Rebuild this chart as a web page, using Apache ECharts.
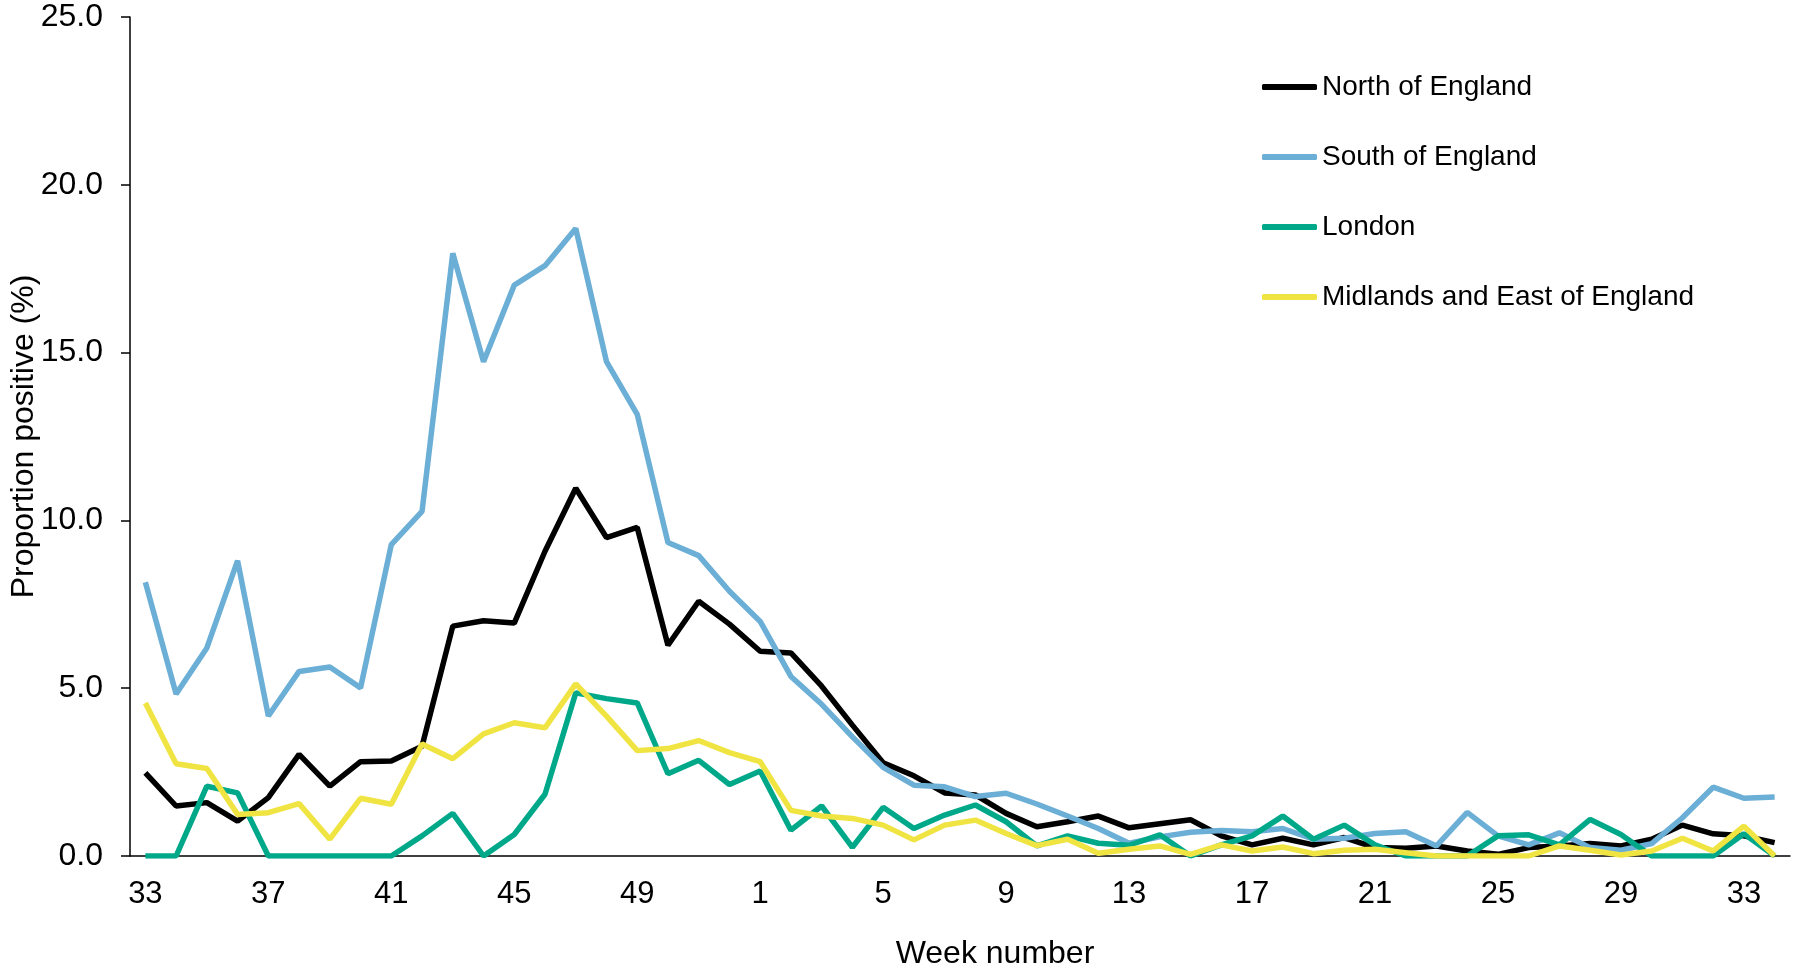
<!DOCTYPE html>
<html style="height: 100%">

<head>
  <meta charset="utf-8">
  <script src="https://cdn.jsdelivr.net/npm/echarts@6/dist/echarts.min.js"></script>
</head>

<body style="height: 100%; margin: 0; background: #fff">
  <div id="main" style="width: 1802px; height: 970px"></div>

  <script type="text/javascript">
    // week numbers: 33..52 of the first year, then 1..34
    var weeks = [33, 34, 35, 36, 37, 38, 39, 40, 41, 42, 43, 44, 45, 46, 47, 48, 49, 50, 51, 52,
      1, 2, 3, 4, 5, 6, 7, 8, 9, 10, 11, 12, 13, 14, 15, 16, 17, 18, 19, 20,
      21, 22, 23, 24, 25, 26, 27, 28, 29, 30, 31, 32, 33, 34];

    var north = [2.48, 1.49, 1.59, 1.04, 1.74, 3.03, 2.08, 2.81, 2.83, 3.27,
      6.85, 7.01, 6.94, 9.08, 10.96, 9.49, 9.79, 6.28, 7.59, 6.91,
      6.10, 6.05, 5.06, 3.90, 2.78, 2.39, 1.88, 1.82, 1.27, 0.87,
      1.02, 1.19, 0.84, 0.96, 1.08, 0.60, 0.33, 0.53, 0.33, 0.55,
      0.25, 0.23, 0.30, 0.15, 0.05, 0.25, 0.30, 0.37, 0.30, 0.50,
      0.92, 0.66, 0.60, 0.40];

    var south = [8.16, 4.83, 6.20, 8.80, 4.17, 5.50, 5.63, 5.01, 9.28, 10.27,
      17.96, 14.73, 17.01, 17.59, 18.70, 14.73, 13.16, 9.34, 8.95, 7.89,
      6.99, 5.35, 4.52, 3.55, 2.64, 2.11, 2.06, 1.77, 1.87, 1.55,
      1.19, 0.82, 0.38, 0.57, 0.71, 0.76, 0.72, 0.82, 0.50, 0.53,
      0.67, 0.72, 0.30, 1.30, 0.60, 0.33, 0.69, 0.25, 0.17, 0.37,
      1.14, 2.05, 1.72, 1.76];

    var london = [0, 0, 2.08, 1.88, 0, 0, 0, 0, 0, 0.60,
      1.27, 0, 0.64, 1.84, 4.86, 4.69, 4.56, 2.45, 2.85, 2.13,
      2.53, 0.77, 1.49, 0.26, 1.45, 0.82, 1.22, 1.52, 1.02, 0.30,
      0.60, 0.38, 0.32, 0.63, 0, 0.33, 0.60, 1.19, 0.50, 0.92,
      0.33, 0, 0, 0, 0.60, 0.63, 0.33, 1.09, 0.64, 0,
      0, 0, 0.66, 0];

    var midlands = [4.56, 2.75, 2.61, 1.24, 1.29, 1.56, 0.50, 1.72, 1.54, 3.34,
      2.90, 3.64, 3.97, 3.82, 5.13, 4.17, 3.14, 3.20, 3.44, 3.08,
      2.81, 1.36, 1.19, 1.12, 0.92, 0.48, 0.92, 1.07, 0.67, 0.31,
      0.50, 0.08, 0.20, 0.30, 0.05, 0.33, 0.15, 0.27, 0.07, 0.17,
      0.20, 0.10, 0, 0, 0, 0, 0.30, 0.17, 0.03, 0.15,
      0.53, 0.15, 0.89, 0];

    var seriesNames = ['North of England', 'South of England', 'London', 'Midlands and East of England'];
    var seriesColors = ['#000000', '#6baed6', '#00a88a', '#f0e442'];
    var seriesData = [north, south, london, midlands];

    var font = 'Liberation Sans, Arial, sans-serif';

    var myChart = echarts.init(document.getElementById('main'));
    var option = {
      animation: false,
      backgroundColor: '#ffffff',
      grid: {
        left: 130,
        right: 12,
        top: 17,
        bottom: 114,
        containLabel: false,
        outerBoundsMode: 'none'
      },
      legend: {
        orient: 'vertical',
        left: 1257,
        top: 68,
        icon: 'roundRect',
        itemWidth: 55,
        itemHeight: 6,
        itemGap: 42,
        textStyle: {
          fontFamily: font,
          fontSize: 28,
          color: '#000'
        },
        data: seriesNames
      },
      xAxis: {
        type: 'category',
        boundaryGap: true,
        data: weeks,
        name: 'Week number',
        nameLocation: 'middle',
        nameGap: 82,
        nameTextStyle: {
          fontFamily: font,
          fontSize: 32,
          color: '#000',
          padding: [0, 0, 0, 70]
        },
        axisLine: {
          lineStyle: { color: '#000', width: 1.5 }
        },
        axisTick: {
          interval: 3,
          length: 9,
          lineStyle: { color: '#000', width: 1.5 }
        },
        axisLabel: {
          interval: 3,
          margin: 23,
          fontFamily: font,
          fontSize: 31,
          color: '#000'
        },
        splitLine: { show: false }
      },
      yAxis: {
        type: 'value',
        min: 0,
        max: 25,
        interval: 5,
        name: 'Proportion positive (%)',
        nameLocation: 'middle',
        nameGap: 90,
        nameMoveOverlap: false,
        nameTextStyle: {
          fontFamily: font,
          fontSize: 32,
          color: '#000'
        },
        axisLine: {
          show: true,
          lineStyle: { color: '#000', width: 1.5 }
        },
        axisTick: {
          show: true,
          length: 9,
          lineStyle: { color: '#000', width: 1.5 }
        },
        axisLabel: {
          margin: 27,
          fontFamily: font,
          fontSize: 32,
          color: '#000',
          formatter: function (v) { return v.toFixed(1); }
        },
        splitLine: { show: false }
      },
      series: seriesNames.map(function (name, i) {
        return {
          name: name,
          type: 'line',
          data: seriesData[i],
          symbol: 'none',
          color: seriesColors[i],
          lineStyle: { width: 5.5, color: seriesColors[i] }
        };
      })
    };
    myChart.setOption(option);
  </script>
</body>

</html>
